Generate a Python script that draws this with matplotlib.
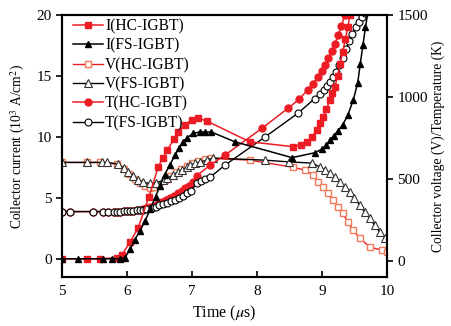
import matplotlib
matplotlib.use("Agg")
import matplotlib.pyplot as plt
from matplotlib.ticker import MultipleLocator

plt.rcParams['font.family'] = ['Liberation Serif', 'DejaVu Serif']
plt.rcParams['mathtext.fontset'] = 'stix'

# Collector current, HC-IGBT (10^3 A/cm^2)
t_i_hc = [5.0, 5.38, 5.58, 5.85, 5.92, 6.05, 6.17, 6.34, 6.48, 6.55, 6.62, 6.72,
          6.78, 6.89, 7.0, 7.09, 7.23, 7.89, 8.55, 8.68, 8.77, 8.85, 8.92, 8.97,
          9.02, 9.07, 9.12, 9.16, 9.2, 9.24, 9.28, 9.32, 9.36, 9.4, 9.43, 9.47]
i_hc = [0, 0, 0, 0.1, 0.3, 1.4, 2.5, 5.1, 7.5, 8.3, 8.9, 9.8,
        10.4, 11.0, 11.4, 11.55, 11.3, 9.6, 9.2, 9.35, 9.6, 10.0, 10.6, 11.1,
        11.6, 12.3, 13.0, 13.6, 14.1, 15.0, 16.0, 17.0, 18.0, 19.0, 20.0, 21.0]

# Collector current, FS-IGBT
t_i_fs = [5.0, 5.25, 5.63, 5.77, 5.9, 5.97, 6.05, 6.12, 6.2, 6.28, 6.36, 6.44,
          6.51, 6.58, 6.66, 6.74, 6.8, 6.86, 6.92, 7.02, 7.12, 7.2, 7.3, 7.66,
          8.54, 8.89, 9.0, 9.07, 9.13, 9.18, 9.25, 9.32, 9.4, 9.48, 9.55, 9.59,
          9.63, 9.67, 9.71]
i_fs = [0, 0, 0, 0, 0, 0.1, 0.8, 1.55, 2.3, 3.1, 4.1, 5.1,
        6.0, 6.9, 7.7, 8.5, 9.1, 9.6, 9.9, 10.3, 10.4, 10.4, 10.4, 9.6,
        8.3, 8.7, 9.0, 9.3, 9.75, 10.1, 10.5, 11.0, 11.8, 13.0, 14.4, 16.0,
        17.5, 19.0, 20.3]

# Collector voltage, HC-IGBT (V)
t_v_hc = [5.0, 5.38, 5.58, 5.85, 5.95, 6.03, 6.12, 6.2, 6.28, 6.35, 6.42, 6.5,
          6.58, 6.66, 6.75, 6.83, 6.92, 7.0, 7.1, 7.2, 7.3, 7.89, 8.55, 8.74,
          8.86, 8.94, 9.02, 9.09, 9.17, 9.25, 9.32, 9.4, 9.48, 9.58, 9.74, 9.92, 10.0]
v_hc = [600, 600, 600, 590, 560, 530, 500, 475, 455, 445, 448, 465,
        490, 515, 540, 560, 580, 595, 608, 618, 625, 614, 571, 553,
        523, 480, 449, 412, 370, 327, 290, 236, 187, 138, 83, 65, 53]

# Collector voltage, FS-IGBT (V)
t_v_fs = [5.0, 5.38, 5.62, 5.69, 5.86, 5.95, 6.02, 6.1, 6.17, 6.25, 6.35, 6.45,
          6.55, 6.62, 6.71, 6.78, 6.85, 6.92, 6.97, 7.05, 7.12, 7.23, 7.32, 8.12,
          8.5, 8.85, 8.97, 9.05, 9.12, 9.2, 9.28, 9.35, 9.43, 9.5, 9.58, 9.66,
          9.74, 9.81, 9.89, 9.97]
v_fs = [600, 600, 600, 600, 590, 565, 540, 515, 495, 478, 472, 475,
        490, 504, 523, 540, 553, 570, 584, 595, 602, 614, 627, 614,
        603, 596, 572, 553, 534, 510, 480, 449, 418, 382, 340, 296,
        259, 216, 175, 138]

# Temperature, HC-IGBT (K)
t_t_hc = [5.0, 5.12, 5.48, 5.63, 5.71, 5.8, 5.85, 5.9, 5.95, 6.0, 6.05, 6.1,
          6.15, 6.2, 6.25, 6.3, 6.36, 6.42, 6.48, 6.54, 6.6, 6.66, 6.72, 6.78,
          6.84, 6.9, 6.96, 7.02, 7.08, 7.28, 7.51, 8.08, 8.48, 8.65, 8.78, 8.86,
          8.94, 9.0, 9.05, 9.1, 9.15, 9.2, 9.25, 9.3, 9.35]
T_hc = [300, 300, 300, 300, 300, 300, 300, 300, 301, 302, 303, 305,
        308, 311, 315, 320, 327, 337, 348, 360, 372, 385, 398, 412,
        427, 442, 458, 478, 520, 584, 645, 809, 931, 986, 1042, 1080,
        1121, 1160, 1195, 1235, 1280, 1325, 1375, 1430, 1500]

# Temperature, FS-IGBT (K)
t_t_fs = [5.0, 5.12, 5.48, 5.63, 5.71, 5.8, 5.85, 5.9, 5.95, 6.0, 6.05, 6.1,
          6.15, 6.2, 6.25, 6.3, 6.38, 6.45, 6.5, 6.56, 6.62, 6.68, 6.74, 6.8,
          6.86, 6.92, 6.98, 7.08, 7.14, 7.2, 7.28, 7.51, 8.12, 8.63, 8.89, 8.97,
          9.03, 9.08, 9.12, 9.17, 9.22, 9.27, 9.32, 9.37, 9.42, 9.47, 9.52,
          9.57, 9.62, 9.66]
T_fs = [300, 300, 300, 300, 300, 300, 300, 300, 301, 302, 303, 305,
        307, 309, 312, 316, 322, 330, 338, 345, 353, 362, 373, 385,
        398, 412, 426, 474, 488, 500, 510, 584, 754, 900, 990, 1015,
        1040, 1065, 1090, 1120, 1155, 1195, 1240, 1290, 1340, 1385, 1425,
        1460, 1490, 1510]

RED = '#ec1c24'
ORANGE = '#f27a5a'

fig = plt.figure(figsize=(4.52, 3.26), dpi=100)
ax = fig.add_axes([0.137, 0.150, 0.719, 0.804])
ax2 = ax.twinx()

ms = 5
h1, = ax.plot(t_i_hc, i_hc, '-s', color=RED, mfc=RED, mec=RED, ms=ms, lw=1.1,
              label='I(HC-IGBT)')
h2, = ax.plot(t_i_fs, i_fs, '-^', color='black', mfc='black', mec='black', ms=ms,
              lw=1.1, label='I(FS-IGBT)')
h3, = ax2.plot(t_v_hc, v_hc, '-s', color=RED, mfc='white', mec=ORANGE, ms=ms,
               lw=1.0, label='V(HC-IGBT)')
h4, = ax2.plot(t_v_fs, v_fs, '-^', color='black', mfc='white', mec='#333333',
               ms=ms + 0.5, lw=1.0, mew=0.8, label='V(FS-IGBT)')
h5, = ax2.plot(t_t_hc, T_hc, '-o', color=RED, mfc=RED, mec=RED, ms=ms, lw=1.1,
               label='T(HC-IGBT)')
h6, = ax2.plot(t_t_fs, T_fs, '-o', color='black', mfc='white', mec='black', ms=ms,
               lw=1.0, mew=0.8, label='T(FS-IGBT)')

ax.set_xlim(5, 10)
ax.set_ylim(-1.5, 20)
ax2.set_ylim(-100, 1500)

ax.xaxis.set_major_locator(MultipleLocator(1))
ax.yaxis.set_major_locator(MultipleLocator(5))
ax2.yaxis.set_major_locator(MultipleLocator(500))

ax.tick_params(axis='x', direction='in', length=4, width=1.2, labelsize=11, pad=6)
ax.tick_params(axis='y', direction='out', length=4, width=1.2, labelsize=11)
ax2.tick_params(axis='y', direction='out', length=4, width=1.2, labelsize=11)

for a in (ax, ax2):
    for s in a.spines.values():
        s.set_linewidth(1.5)

ax.set_xlabel(r'Time ($\mu$s)', fontsize=11.5, labelpad=4)
ax.set_ylabel(r'Collector current (10$^3$ A/cm$^2$)', fontsize=9.8, labelpad=7)
ax2.set_ylabel('Collector voltage (V)/Temperature (K)', fontsize=9.8, labelpad=3)

ax.set_zorder(ax2.get_zorder() + 1)
ax.patch.set_visible(False)

leg = ax.legend(handles=[h1, h2, h3, h4, h5, h6], loc='upper left', frameon=False,
                fontsize=11.2, handlelength=1.9, handletextpad=0.15,
                labelspacing=0.22, borderaxespad=0.0, borderpad=0.2,
                bbox_to_anchor=(0.025, 1.0))

fig.savefig('out.png', dpi=100)
